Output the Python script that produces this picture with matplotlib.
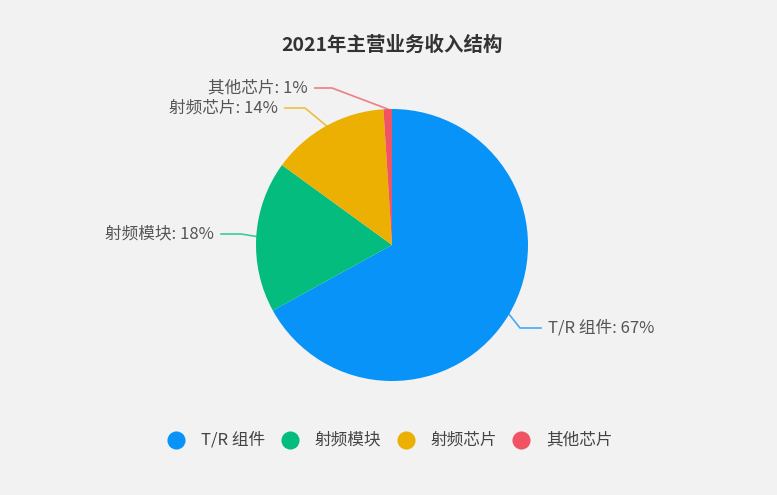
import matplotlib.pyplot as plt
import numpy as np

plt.rcParams['font.family'] = ['Noto Sans CJK SC', 'DejaVu Sans']

title = '2021年主营业务收入结构'
categories = ['T/R 组件', '射频模块', '射频芯片', '其他芯片']
shares = [67, 18, 14, 1]
colors = ['#0893f8', '#03bc7d', '#ebb002', '#f05462']

W, H = 777, 495
fig = plt.figure(figsize=(W / 100, H / 100), dpi=100)
fig.patch.set_facecolor('#f2f2f2')
ax = fig.add_axes([0, 0, 1, 1])

cx, cy, r = 392, H - 245, 136
wedges, _ = ax.pie(shares, colors=colors, startangle=90, counterclock=False,
                   center=(cx, cy), radius=r, frame=True,
                   wedgeprops=dict(linewidth=0))
ax.set_xlim(0, W)
ax.set_ylim(0, H)
ax.set_aspect('equal')
ax.axis('off')

# label elbows / text anchors in image pixels (layout only)
elbows = [(520, 328), (241, 234), (305, 108), (332, 88)]
ends = [(541, 328), (221, 234), (285, 108), (315, 88)]
text_x = [548, 214, 278, 308]
for i, w in enumerate(wedges):
    mid = np.deg2rad((w.theta1 + w.theta2) / 2)
    ex, ey = cx + r * np.cos(mid), cy + r * np.sin(mid)
    bx, by = elbows[i]
    tx, ty = ends[i]
    ax.plot([ex, bx, tx], [ey, H - by, H - ty], color=colors[i], lw=1.2, alpha=0.75)
    ha = 'left' if tx > bx else 'right'
    ax.text(text_x[i], H - ty, f'{categories[i]}: {shares[i]}%', ha=ha, va='center',
            fontsize=12, color='#555555')

ax.text(cx, H - 45, title, ha='center', va='center', fontsize=14,
        fontweight='bold', color='#333333')

legend_x = [176, 290, 406, 521]
for i, name in enumerate(categories):
    ax.scatter(legend_x[i], H - 440, s=170, color=colors[i], linewidths=0)
    ax.text(legend_x[i] + 25, H - 440, name, ha='left', va='center',
            fontsize=12, color='#444444')

plt.savefig('out.png', dpi=100, facecolor=fig.get_facecolor())
